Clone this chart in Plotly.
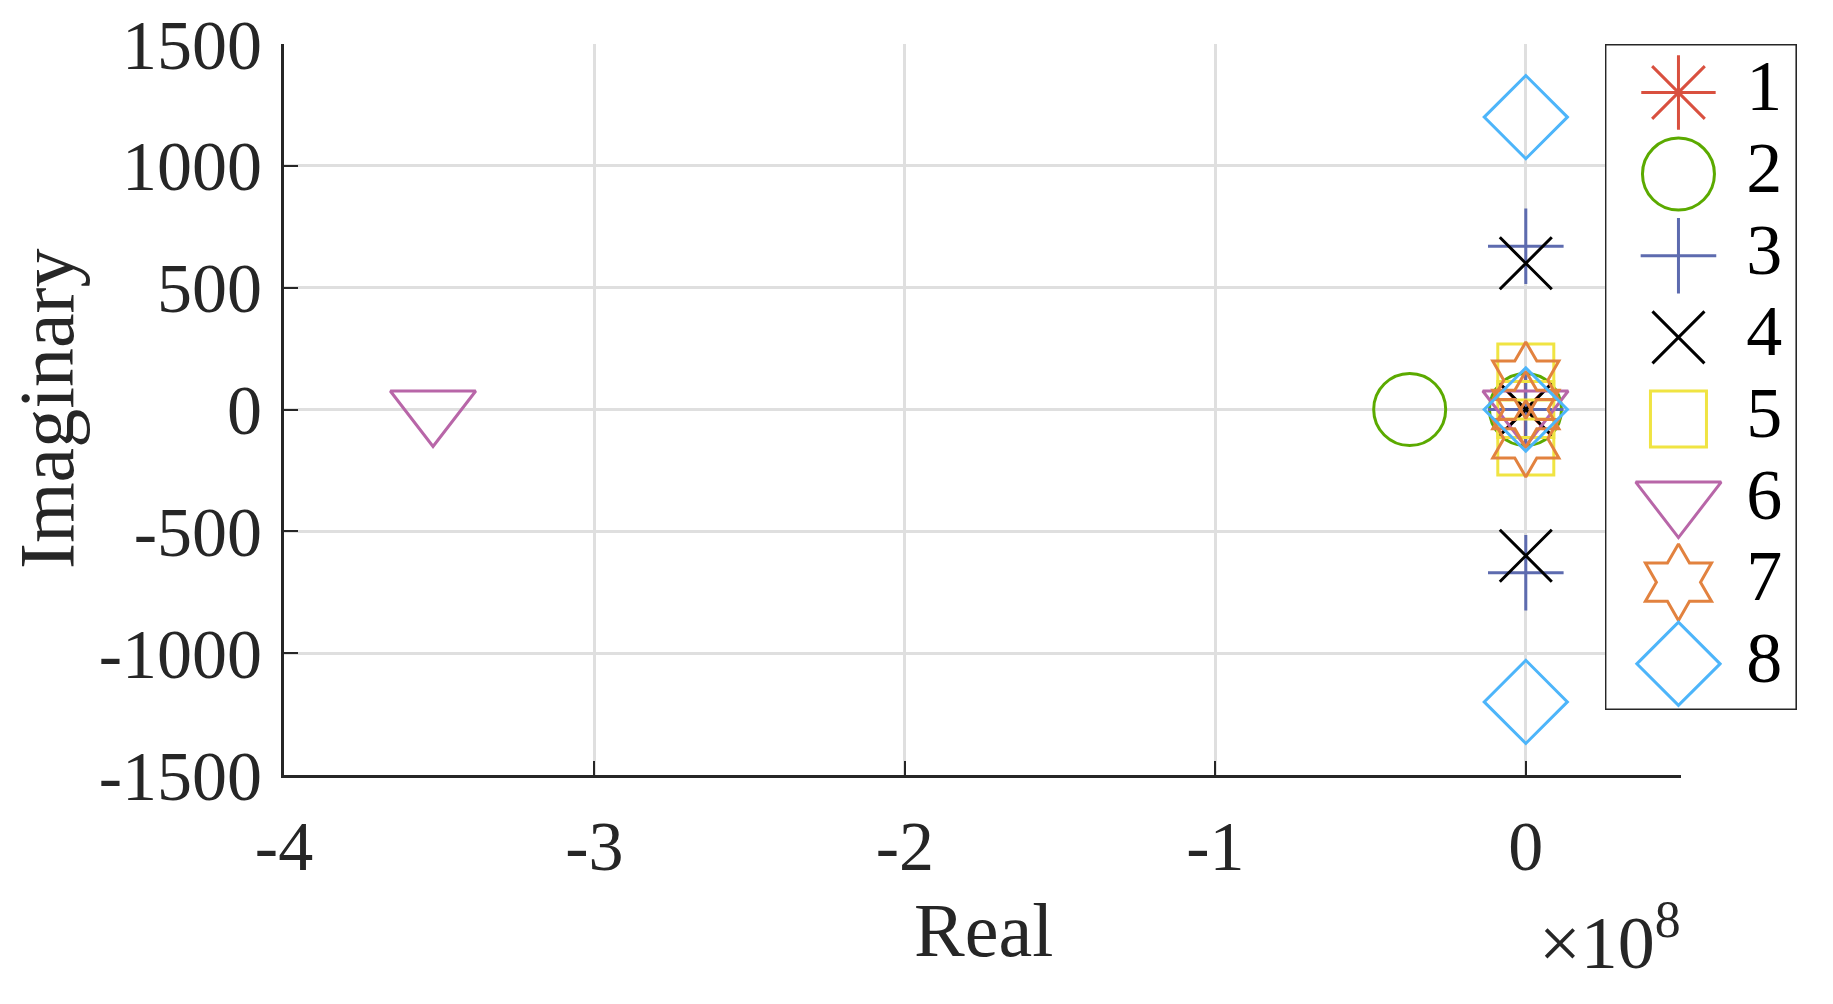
import plotly.graph_objects as go

# pole locations for the 8 cases (real part, imaginary part)
labels = ["1", "2", "3", "4", "5", "6", "7", "8"]

real_1 = [-1.5e5]
imag_1 = [0]
real_2 = [-0.374e8, -1.0e5]
imag_2 = [0, 0]
real_3 = [0, 0, 0]
imag_3 = [670, -670, 0]
real_4 = [0, 0, 0]
imag_4 = [600, -600, 0]
real_5 = [0, 0, 0]
imag_5 = [154, -154, 0]
real_6 = [-3.52e8, -1.0e5]
imag_6 = [0, 0]
real_7 = [0, 0, 0]
imag_7 = [120, -120, 0]
real_8 = [0, 0, 0]
imag_8 = [1200, -1200, 0]

x_ticks = [-4e8, -3e8, -2e8, -1e8, 0]
x_ticktext = ["-4", "-3", "-2", "-1", "0"]
y_ticks = [-1500, -1000, -500, 0, 500, 1000, 1500]
y_ticktext = ["-1500", "-1000", "-500", "0", "500", "1000", "1500"]

reals = [real_1, real_2, real_3, real_4, real_5, real_6, real_7, real_8]
imags = [imag_1, imag_2, imag_3, imag_4, imag_5, imag_6, imag_7, imag_8]

symbols = ["asterisk", "circle-open", "cross-thin", "x-thin", "square-open",
           "triangle-down-open", "hexagram-open", "diamond-open"]
sizes = [62, 72, 54, 52, 56, 74, 58, 64]
colors = ["#D9503F", "#5BAA00", "#5D6BAF", "#000000", "#F0E442",
          "#B866A8", "#E2823F", "#4DB5FA"]

FONT = "Liberation Serif"
INK = "#262626"
LW = 3

fig = go.Figure()

for re_, im_, sym, sz, col, lab in zip(reals, imags, symbols, sizes, colors, labels):
    fig.add_trace(go.Scatter(
        x=re_, y=im_, mode="markers", name=lab, showlegend=False,
        marker=dict(symbol=sym, size=sz, color=col, line=dict(color=col, width=LW)),
        xaxis="x", yaxis="y", hoverinfo="skip"))

# hand-made legend with full size markers (plotly caps legend symbols at 16px)
for i, (sym, sz, col, lab) in enumerate(zip(symbols, sizes, colors, labels)):
    fig.add_trace(go.Scatter(
        x=[0.383], y=[i + 1], mode="markers", showlegend=False,
        marker=dict(symbol=sym, size=sz, color=col, line=dict(color=col, width=LW)),
        xaxis="x2", yaxis="y2", hoverinfo="skip"))
fig.add_trace(go.Scatter(
    x=[0.83] * len(labels), y=list(range(1, len(labels) + 1)), mode="text",
    text=labels, textposition="middle center", showlegend=False,
    textfont=dict(family=FONT, size=72, color="#000000"),
    xaxis="x2", yaxis="y2", hoverinfo="skip"))

fig.add_shape(type="rect", xref="x2", yref="y2", x0=0, x1=1, y0=0.406, y1=8.566,
              line=dict(color=INK, width=3), fillcolor="white", layer="below")

axis_common = dict(
    showgrid=True, gridcolor="#DFDFDF", gridwidth=3,
    showline=True, linecolor=INK, linewidth=3,
    ticks="inside", ticklen=14, tickwidth=2, tickcolor=INK,
    zeroline=False, mirror=False, ticklabeloverflow="allow", automargin=False,
    tickfont=dict(family=FONT, size=70, color=INK),
)

fig.update_layout(
    width=1833, height=1004,
    margin=dict(l=276, r=38, t=36, b=237, autoexpand=False),
    paper_bgcolor="white", plot_bgcolor="white",
    xaxis=dict(range=[-4e8, 0.5e8], tickvals=x_ticks, ticktext=x_ticktext,
               domain=[0, 0.9197], anchor="y", ticklabelstandoff=8, **axis_common),
    yaxis=dict(range=[-1500, 1500], tickvals=y_ticks, ticktext=y_ticktext,
               domain=[0, 1], anchor="x", ticklabelstandoff=5, **axis_common),
    xaxis2=dict(range=[0, 1], domain=[0.8696, 0.996], anchor="y2", visible=False),
    yaxis2=dict(range=[8.566, 0.406], domain=[0.0889, 1], anchor="x2", visible=False),
    annotations=[
        dict(text="Real", x=0.4602, y=-0.2127, xref="paper", yref="paper",
             xanchor="center", yanchor="middle", showarrow=False,
             font=dict(family=FONT, size=76, color=INK)),
        dict(text="Imaginary", x=-0.156, y=0.5007, xref="paper", yref="paper",
             xanchor="center", yanchor="middle", showarrow=False, textangle=-90,
             font=dict(family=FONT, size=78, color=INK)),
        dict(text="×10<sup>8</sup>", x=0.9213, y=-0.222, xref="paper", yref="paper",
             xanchor="right", yanchor="middle", showarrow=False,
             font=dict(family=FONT, size=74, color=INK)),
    ],
)

fig.write_html("out.html")
